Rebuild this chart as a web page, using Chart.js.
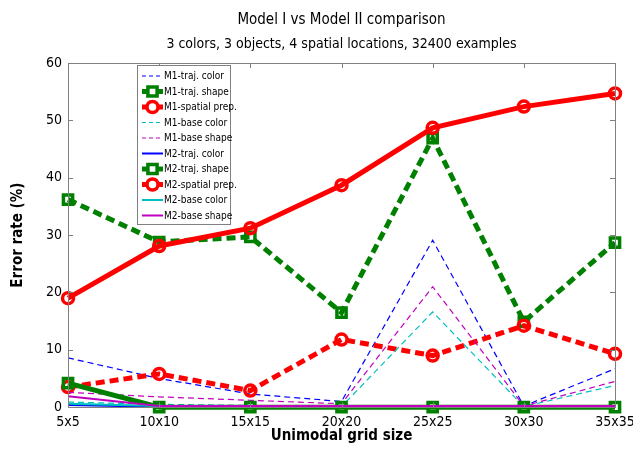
<!DOCTYPE html>
<html>
<head>
<meta charset="utf-8">
<script src="https://cdn.jsdelivr.net/npm/chart.js@4/dist/chart.umd.min.js"></script>
<style>
  html, body { margin: 0; padding: 0; background: #fff; }
  #wrap { width: 633px; height: 450px; }
</style>
</head>
<body>
<div id="wrap"><canvas id="c" width="633" height="450"></canvas></div>
<script>
const categories = ['5x5', '10x10', '15x15', '20x20', '25x25', '30x30', '35x35'];
const yTicks = [0, 10, 20, 30, 40, 50, 60];
const titleLines = ['Model I vs Model II comparison', '3 colors, 3 objects, 4 spatial locations, 32400 examples'];
const xTitle = 'Unimodal grid size';
const yTitle = 'Error rate (%)';

const m1TrajColor   = [8.6, 5.0, 2.3, 1.0, 29.1, 0.2, 6.7];
const m1TrajShape   = [36.2, 28.8, 29.7, 16.5, 46.9, 14.9, 28.7];
const m1SpatialPrep = [3.5, 5.8, 2.9, 11.8, 9.0, 14.2, 9.3];
const m1BaseColor   = [0.9, 0.5, 0.3, 0.1, 16.6, 0.1, 3.8];
const m1BaseShape   = [2.6, 1.8, 1.2, 0.6, 21.0, 0.2, 4.5];
const m2TrajColor   = [0.4, 0.1, 0.1, 0.1, 0.1, 0.1, 0.1];
const m2TrajShape   = [4.2, 0, 0, 0, 0, 0, 0];
const m2SpatialPrep = [19.0, 28.1, 31.2, 38.7, 48.7, 52.4, 54.7];
const m2BaseColor   = [0.6, 0.2, 0.1, 0.1, 0.1, 0.1, 0.1];
const m2BaseShape   = [1.9, 0.2, 0.2, 0.2, 0.2, 0.2, 0.2];

const BLUE = '#0000ff', GREEN = '#008000', RED = '#ff0000', CYAN = '#00bfbf', MAG = '#bf00bf';
const FONT = "'DejaVu Sans Condensed', 'Liberation Sans Narrow', 'Liberation Sans', sans-serif";

function ds(label, data, color, width, dash, marker) {
  const d = {
    label, data,
    borderColor: color, backgroundColor: color,
    borderWidth: width, borderDash: dash,
    pointRadius: 0, pointHoverRadius: 0,
    tension: 0, fill: false, clip: false
  };
  if (marker === 'rect') {
    d.pointStyle = 'rect'; d.pointRadius = 6.5; d.pointBorderWidth = 3.5;
    d.pointBorderColor = color; d.pointBackgroundColor = 'rgba(255,255,255,0)';
  } else if (marker === 'circle') {
    d.pointStyle = 'circle'; d.pointRadius = 5.5; d.pointBorderWidth = 3.5;
    d.pointBorderColor = color; d.pointBackgroundColor = 'rgba(255,255,255,0)';
  }
  return d;
}

const datasets = [
  ds('M1-traj. color', m1TrajColor, BLUE, 1.2, [6, 4]),
  ds('M1-traj. shape', m1TrajShape, GREEN, 5, [9, 5], 'rect'),
  ds('M1-spatial prep.', m1SpatialPrep, RED, 5, [9, 5], 'circle'),
  ds('M1-base color', m1BaseColor, CYAN, 1.2, [6, 4]),
  ds('M1-base shape', m1BaseShape, MAG, 1.2, [6, 4]),
  ds('M2-traj. color', m2TrajColor, BLUE, 2, []),
  ds('M2-traj. shape', m2TrajShape, GREEN, 5, [], 'rect'),
  ds('M2-spatial prep.', m2SpatialPrep, RED, 5, [], 'circle'),
  ds('M2-base color', m2BaseColor, CYAN, 2, []),
  ds('M2-base shape', m2BaseShape, MAG, 2, [])
];
datasets.forEach((d, i) => { d.order = datasets.length - i; });

const AXIS = '#808080';

const framePlugin = {
  id: 'frame',
  afterDatasetsDraw(chart) {
    const ctx = chart.ctx, a = chart.chartArea;
    const xs = chart.scales.x, ys = chart.scales.y;
    ctx.save();
    ctx.strokeStyle = AXIS; ctx.lineWidth = 1;
    ctx.strokeRect(Math.round(a.left) + 0.5, Math.round(a.top) + 0.5,
                   Math.round(a.right - a.left), Math.round(a.bottom - a.top));
    ctx.beginPath();
    const tl = 5;
    xs.ticks.forEach((t, i) => {
      const x = Math.round(xs.getPixelForTick(i)) + 0.5;
      ctx.moveTo(x, a.bottom); ctx.lineTo(x, a.bottom - tl);
      ctx.moveTo(x, a.top); ctx.lineTo(x, a.top + tl);
    });
    ys.ticks.forEach((t, i) => {
      const y = Math.round(ys.getPixelForTick(i)) + 0.5;
      ctx.moveTo(a.left, y); ctx.lineTo(a.left + tl, y);
      ctx.moveTo(a.right, y); ctx.lineTo(a.right - tl, y);
    });
    ctx.stroke();
    ctx.restore();
  },
  afterDraw(chart) {
    const ctx = chart.ctx, a = chart.chartArea;
    ctx.save();
    const cx = (a.left + a.right) / 2;
    ctx.fillStyle = '#000';
    ctx.textAlign = 'center'; ctx.textBaseline = 'middle';
    ctx.font = '15px ' + FONT;
    ctx.fillText(titleLines[0], cx, 20);
    ctx.font = '14px ' + FONT;
    ctx.fillText(titleLines[1], cx, 44);
    ctx.font = 'bold 15px ' + FONT;
    ctx.fillText(xTitle, cx, 436);
    ctx.save();
    ctx.translate(18, (a.top + a.bottom) / 2);
    ctx.rotate(-Math.PI / 2);
    ctx.fillText(yTitle, 0, 0);
    ctx.restore();
    // legend
    const lx = 137.5, ly = 65.5, lw = 93, lh = 159;
    ctx.fillStyle = '#fff';
    ctx.fillRect(lx, ly, lw, lh);
    ctx.strokeStyle = '#808080'; ctx.lineWidth = 1;
    ctx.strokeRect(lx, ly, lw, lh);
    const rowH = 15.5, y0 = 76;
    chart.data.datasets.forEach((d, i) => {
      const y = y0 + i * rowH;
      ctx.save();
      ctx.strokeStyle = d.borderColor;
      ctx.lineWidth = d.borderWidth;
      ctx.setLineDash(d.borderDash.length ? (d.borderWidth > 3 ? [5, 3] : [4, 3]) : []);
      ctx.beginPath(); ctx.moveTo(142, y); ctx.lineTo(163, y); ctx.stroke();
      ctx.setLineDash([]);
      if (d.pointStyle) {
        ctx.lineWidth = 3.5;
        ctx.strokeStyle = d.borderColor;
        ctx.fillStyle = '#ffffff';
        Chart.helpers.drawPoint(ctx, {
          pointStyle: d.pointStyle, radius: d.pointStyle === 'rect' ? 6.5 : 5.5,
          borderWidth: 3.5, rotation: 0
        }, 152.5, y);
      }
      ctx.restore();
      ctx.fillStyle = '#000';
      ctx.font = '10px ' + FONT;
      ctx.textAlign = 'left'; ctx.textBaseline = 'middle';
      ctx.fillText(d.label, 164, y + 0.5);
    });
    ctx.restore();
  }
};

new Chart(document.getElementById('c'), {
  type: 'line',
  data: { labels: categories, datasets },
  options: {
    responsive: false,
    animation: false,
    devicePixelRatio: 1,
    layout: { padding: { top: 63, right: 0, left: 40, bottom: 12 } },
    plugins: { legend: { display: false }, title: { display: false }, tooltip: { enabled: false } },
    scales: {
      x: {
        type: 'category', offset: false,
        grid: { display: false, drawTicks: false },
        border: { display: false },
        ticks: { color: '#000', font: { family: FONT, size: 14 }, padding: 7, maxRotation: 0, autoSkip: false },
        title: { display: false },
        afterFit(scale) { scale.paddingRight = 18; }
      },
      y: {
        min: 0, max: 60,
        afterBuildTicks(scale) { scale.ticks = yTicks.map(v => ({ value: v })); },
        grid: { display: false, drawTicks: false },
        border: { display: false },
        ticks: { color: '#000', font: { family: FONT, size: 14 }, padding: 6 },
        title: { display: false }
      }
    }
  },
  plugins: [framePlugin]
});
</script>
</body>
</html>
